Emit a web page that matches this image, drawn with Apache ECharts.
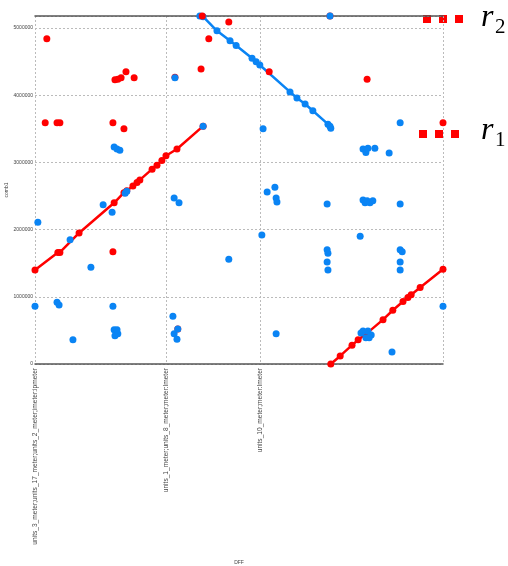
<!DOCTYPE html>
<html>
<head>
<meta charset="utf-8">
<script src="https://cdn.jsdelivr.net/npm/echarts@6/dist/echarts.min.js"></script>
<style>html,body{margin:0;padding:0;background:#fff}#c{width:508px;height:566px}</style>
</head>
<body>
<div id="c"></div>
<script>
// ---- data ----
const xTickLabels = ['units_3_meter;units_17_meter;units_2_meter;imeter:ipmeter', 'units_1_meter;units_8_meter;meter:lmeter', 'units_10_meter;meter:lmeter'];
const xTickPositions = [0, 32.1, 55.1];
const xGridPositions = [0, 32.1, 55.1, 100];
const yAxisName = 'comb1';
const xAxisName = 'DFF';

const redLine1 = [[0,1400000],[5.6,1660000],[6.1,1660000],[10.8,1950000],[19.4,2400000],[21.8,2550000],[22.5,2580000],[24.0,2650000],[25.0,2700000],[25.7,2740000],[28.7,2900000],[29.9,2960000],[31.1,3030000],[32.1,3100000],[34.8,3200000],[41.2,3540000]];
const redLine2 = [[72.5,0],[74.8,120000],[77.7,280000],[79.2,360000],[81.4,460000],[85.3,660000],[87.7,800000],[90.2,930000],[91.4,990000],[92.2,1030000],[94.4,1140000],[100,1410000]];
const blueLine = [[40.4,5180000],[41.2,5170000],[44.6,4960000],[47.8,4810000],[49.3,4740000],[53.2,4550000],[54.2,4500000],[55.1,4450000],[62.5,4050000],[64.2,3960000],[66.2,3870000],[68.1,3770000],[71.8,3570000],[72.3,3540000],[72.5,3510000]];

const redPoints = [[2.9,4840000],[2.5,3590000],[5.4,3590000],[6.1,3590000],[19.1,3590000],[21.8,3500000],[19.6,4230000],[20.3,4240000],[21.1,4260000],[22.3,4350000],[24.3,4260000],[19.1,1670000],[34.3,4270000],[35.0,520000],[40.7,4390000],[42.6,4840000],[47.5,5090000],[57.4,4350000],[81.4,4240000],[100,3590000],[41.0,5180000],[72.3,5180000]];
const bluePoints = [[0.7,2110000],[0,860000],[5.4,920000],[5.9,880000],[9.3,360000],[8.6,1850000],[13.7,1440000],[16.7,2370000],[18.9,2260000],[19.4,3230000],[20.1,3200000],[20.8,3180000],[22.1,2540000],[22.5,2570000],[19.1,860000],[19.4,510000],[19.9,480000],[20.3,450000],[19.6,420000],[20.1,510000],[33.8,710000],[34.1,450000],[34.8,370000],[35.0,520000],[34.1,2470000],[35.3,2400000],[34.3,4260000],[41.2,3540000],[47.5,1560000],[55.9,3500000],[55.6,1920000],[56.9,2560000],[58.8,2630000],[59.1,2470000],[59.3,2410000],[59.1,450000],[71.6,2380000],[71.6,1700000],[71.8,1650000],[71.6,1520000],[71.8,1400000],[72.3,5180000],[79.7,1900000],[80.4,3200000],[81.1,3150000],[81.6,3210000],[83.3,3210000],[86.8,3140000],[80.4,2440000],[80.9,2400000],[81.4,2430000],[82.1,2400000],[82.8,2430000],[79.9,460000],[80.4,490000],[81.6,490000],[82.4,430000],[81.1,390000],[81.9,390000],[87.5,180000],[89.5,3590000],[89.5,2380000],[89.5,1700000],[90.0,1670000],[89.5,1520000],[89.5,1400000],[100,860000]];

const RED = '#ff0000', BLUE = '#0a84f4';
const chart = echarts.init(document.getElementById('c'), null, {renderer: 'canvas'});

function sq(x, y) { return {type: 'rect', shape: {x: x, y: y, width: 8, height: 8}, style: {fill: RED}}; }

chart.setOption({
  animation: false,
  grid: {left: 35, right: 65, top: 16, bottom: 202, containLabel: false, outerBoundsMode: 'none'},
  xAxis: [{
    type: 'value', min: 0, max: 100, position: 'bottom',
    name: xAxisName, nameLocation: 'middle', nameGap: 196, nameMoveOverlap: false,
    nameTextStyle: {fontSize: 5, color: '#444'},
    axisLine: {show: true, onZero: false, lineStyle: {color: '#555', width: 1.5}},
    axisTick: {show: false, customValues: xGridPositions},
    axisLabel: {customValues: xTickPositions, rotate: 90, fontSize: 6.6, color: '#444', margin: 4,
      formatter: function (v) { const i = xTickPositions.indexOf(v); return i >= 0 ? xTickLabels[i] : ''; }},
    splitLine: {show: true, lineStyle: {type: [2, 2], color: '#bbb', width: 1}}
  }, {
    type: 'value', min: 0, max: 100, position: 'top',
    axisLine: {show: true, onZero: false, lineStyle: {color: '#555', width: 1.5}},
    axisTick: {show: false}, axisLabel: {show: false}, splitLine: {show: false}
  }],
  yAxis: {
    type: 'value', min: 0, max: 5180000, interval: 1000000,
    name: yAxisName, nameLocation: 'middle', nameGap: 26, nameRotate: 90, nameMoveOverlap: false,
    nameTextStyle: {fontSize: 5, color: '#444'},
    axisLine: {show: false}, axisTick: {show: false},
    axisLabel: {fontSize: 5, color: '#444', margin: 2, showMaxLabel: false, formatter: function (v) { return String(v); }},
    splitLine: {show: true, lineStyle: {type: [2, 2], color: '#bbb', width: 1}}
  },
  series: [
    {type: 'line', data: redLine1, symbol: 'circle', symbolSize: 7, itemStyle: {color: RED}, lineStyle: {color: RED, width: 2.5}, z: 2},
    {type: 'line', data: redLine2, symbol: 'circle', symbolSize: 7, itemStyle: {color: RED}, lineStyle: {color: RED, width: 2.5}, z: 2},
    {type: 'line', data: blueLine, symbol: 'circle', symbolSize: 7, itemStyle: {color: BLUE}, lineStyle: {color: BLUE, width: 2.5}, z: 3},
    {type: 'scatter', data: redPoints, symbolSize: 7, itemStyle: {color: RED, opacity: 1}, z: 4},
    {type: 'scatter', data: bluePoints, symbolSize: 7, itemStyle: {color: BLUE, opacity: 1}, z: 5}
  ],
  graphic: [
    sq(423, 15), sq(439, 15), sq(455, 15),
    sq(419, 130), sq(435, 130), sq(451, 130),
    {type: 'text', left: 481, top: 2, style: {text: 'r', font: 'italic 32px "Liberation Serif"', fill: '#000'}},
    {type: 'text', left: 495, top: 17, style: {text: '2', font: '21px "Liberation Serif"', fill: '#000'}},
    {type: 'text', left: 481, top: 115, style: {text: 'r', font: 'italic 32px "Liberation Serif"', fill: '#000'}},
    {type: 'text', left: 495, top: 130, style: {text: '1', font: '21px "Liberation Serif"', fill: '#000'}}
  ]
});
</script>
</body>
</html>
